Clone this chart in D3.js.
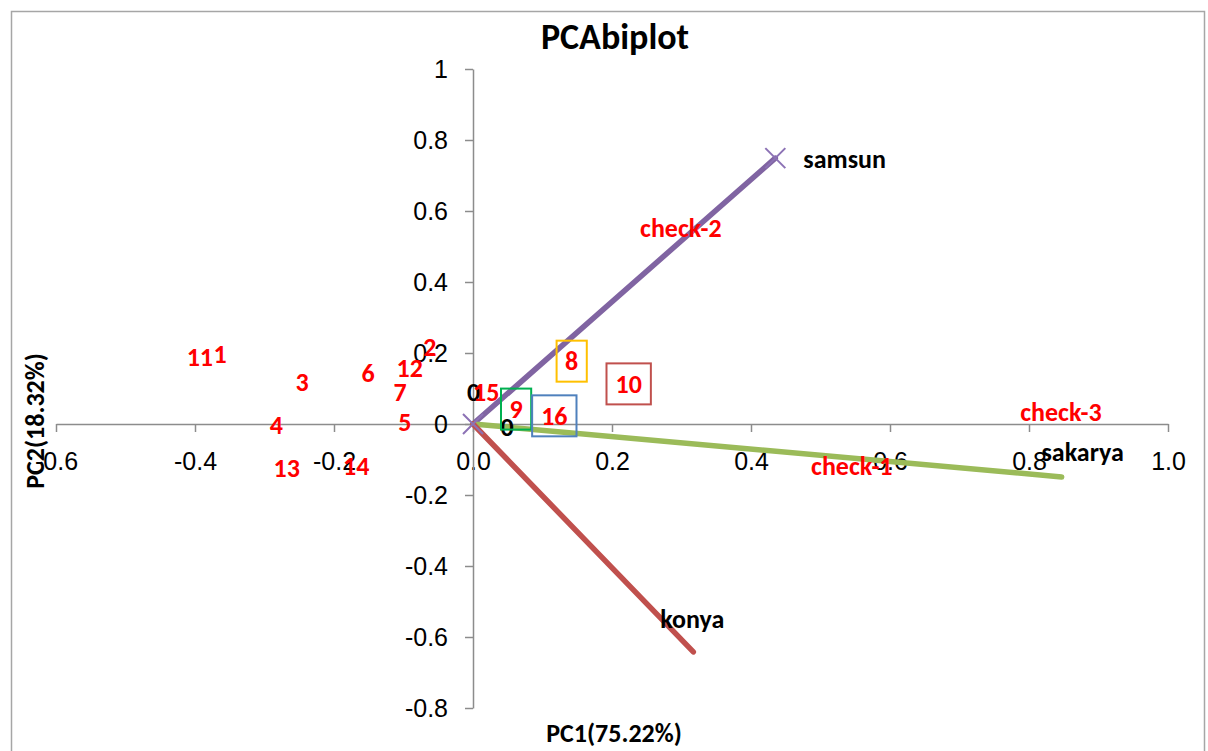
<!DOCTYPE html>
<html>
<head>
<meta charset="utf-8">
<script src="https://cdn.jsdelivr.net/npm/d3@7"></script>
<style>
    body { margin: 0; background: #fff; }
    svg { font-family: Carlito, Calibri, Lato, sans-serif; }
    .axis path, .axis line { stroke: #8c8c8c; stroke-width: 1.5; }
    .axis text { font-size: 25px; fill: #000; }
</style>
</head>
<body>
<svg id="chart"></svg>
<script>
// axis setup
const xTicks = [-0.6, -0.4, -0.2, 0.0, 0.2, 0.4, 0.6, 0.8, 1.0];
const yTicks = [-0.8, -0.6, -0.4, -0.2, 0, 0.2, 0.4, 0.6, 0.8, 1];

// variable loadings (vector end points)
const vars = ["samsun", "sakarya", "konya"];
const varPC1 = [0.435, 0.847, 0.317];
const varPC2 = [0.749, -0.149, -0.642];

// genotype scores (label positions)
const genos = ["1", "11", "2", "3", "4", "5", "6", "7", "8", "9", "10", "12", "13", "14", "15", "16",
               "check-1", "check-2", "check-3"];
const genoPC1 = [-0.364, -0.393, -0.062, -0.246, -0.283, -0.098, -0.151, -0.105, 0.142, 0.062,
                 0.224, -0.091, -0.268, -0.168, 0.019, 0.117, 0.545, 0.299, 0.846];
const genoPC2 = [0.197, 0.189, 0.217, 0.118, -0.003, 0.006, 0.144, 0.090, 0.177, 0.042,
                 0.113, 0.158, -0.124, -0.118, 0.090, 0.023, -0.118, 0.552, 0.034];

// origin data labels ("0") of the vector series
const zeroPC1 = [0.001, 0.049];
const zeroPC2 = [0.090, -0.008];

// genotypes that were boxed by hand
const boxed = ["8", "9", "10", "16"];
const boxColors = ["#FFC000", "#00B050", "#C0504D", "#4F81BD"];

let width = 1208, height = 751;
let svg = d3.select("#chart").attr("width", width).attr("height", height);

// chart border
svg.append("rect")
    .attr("x", 11.5).attr("y", 11.5)
    .attr("width", 1193).attr("height", 760)
    .attr("fill", "none")
    .attr("stroke", "#a6a6a6")
    .attr("stroke-width", 1.5);

let x = d3.scaleLinear().domain([-0.6, 1.0]).range([56, 1168]);
let y = d3.scaleLinear().domain([-0.8, 1]).range([708, 69]);

// plain hyphen for negatives, like excel
let fmtX = d => d3.format(".1f")(d).replace("\u2212", "-");
let fmtY = d => String(+d.toFixed(1));

// title
svg.append("text")
    .attr("x", 615).attr("y", 49)
    .attr("text-anchor", "middle")
    .style("font-size", "36px")
    .style("font-weight", "bold")
    .text("PCAbiplot");

// axes cross at zero
svg.append("g")
    .attr("class", "axis")
    .attr("transform", `translate(0,${y(0)})`)
    .call(d3.axisBottom(x).tickValues(xTicks).tickFormat(fmtX)
        .tickSize(8).tickSizeOuter(0).tickPadding(20));

svg.append("g")
    .attr("class", "axis")
    .attr("transform", `translate(${x(0)},0)`)
    .call(d3.axisLeft(y).tickValues(yTicks).tickFormat(fmtY)
        .tickSize(8).tickSizeOuter(0).tickPadding(17));

// axis titles
svg.append("text")
    .attr("x", 614).attr("y", 742)
    .attr("text-anchor", "middle")
    .style("font-size", "26px").style("font-weight", "bold")
    .text("PC1(75.22%)");

svg.append("text")
    .attr("transform", "translate(44,421) rotate(-90)")
    .attr("text-anchor", "middle")
    .style("font-size", "26px").style("font-weight", "bold")
    .text("PC2(18.32%)");

// loading vectors
let lineColors = ["#8064A2", "#9BBB59", "#C0504D"];
let vecs = vars.map((v, i) => ({name: v, pc1: varPC1[i], pc2: varPC2[i], color: lineColors[i]}));

svg.append("g")
    .selectAll("line")
    .data(vecs)
    .enter().append("line")
    .attr("x1", x(0)).attr("y1", y(0))
    .attr("x2", d => x(d.pc1)).attr("y2", d => y(d.pc2))
    .attr("stroke", d => d.color)
    .attr("stroke-width", 5.5)
    .attr("stroke-linecap", "round");

// purple series has x markers at both ends
let sam = vecs[0];
let markerPts = [[0, 0], [sam.pc1, sam.pc2]];
svg.append("g")
    .selectAll("path")
    .data(markerPts)
    .enter().append("path")
    .attr("d", d => {
        let cx = x(d[0]), cy = y(d[1]), r = 10;
        return `M${cx - r},${cy - r}L${cx + r},${cy + r}M${cx - r},${cy + r}L${cx + r},${cy - r}`;
    })
    .attr("stroke", "#8C72B5")
    .attr("stroke-width", 2)
    .attr("fill", "none");

// variable names next to the vector ends
let nameOffsets = {samsun: [28, 1, "start"], sakarya: [21, -25, "middle"], konya: [-1, -33, "middle"]};
svg.append("g")
    .selectAll("text")
    .data(vecs)
    .enter().append("text")
    .attr("x", d => x(d.pc1) + nameOffsets[d.name][0])
    .attr("y", d => y(d.pc2) + nameOffsets[d.name][1])
    .attr("text-anchor", d => nameOffsets[d.name][2])
    .attr("dominant-baseline", "central")
    .style("font-size", "26px").style("font-weight", "bold")
    .text(d => d.name);

// "0" labels at the vector origins
svg.append("g")
    .selectAll("text")
    .data(zeroPC1.map((v, i) => [v, zeroPC2[i]]))
    .enter().append("text")
    .attr("x", d => x(d[0])).attr("y", d => y(d[1]))
    .attr("text-anchor", "middle")
    .attr("dominant-baseline", "central")
    .style("font-size", "26px").style("font-weight", "bold")
    .text("0");

// genotype labels
let pts = genos.map((g, i) => ({id: g, pc1: genoPC1[i], pc2: genoPC2[i]}));
let labels = svg.append("g")
    .selectAll("text")
    .data(pts)
    .enter().append("text")
    .attr("x", d => x(d.pc1)).attr("y", d => y(d.pc2))
    .attr("text-anchor", "middle")
    .attr("dominant-baseline", "central")
    .attr("fill", "#FF0000")
    .style("font-size", "26px").style("font-weight", "bold")
    .text(d => d.id);

// boxes drawn round some of the labels
labels.filter(d => boxed.includes(d.id)).each(function (d) {
    let bb = this.getBBox();
    let padX = d.id.length > 1 ? 9 : 8.5;
    svg.append("rect")
        .attr("x", x(d.pc1) - bb.width / 2 - padX)
        .attr("y", y(d.pc2) - 20.5)
        .attr("width", bb.width + 2 * padX)
        .attr("height", 41)
        .attr("fill", "none")
        .attr("stroke", boxColors[boxed.indexOf(d.id)])
        .attr("stroke-width", 2);
});
</script>
</body>
</html>
